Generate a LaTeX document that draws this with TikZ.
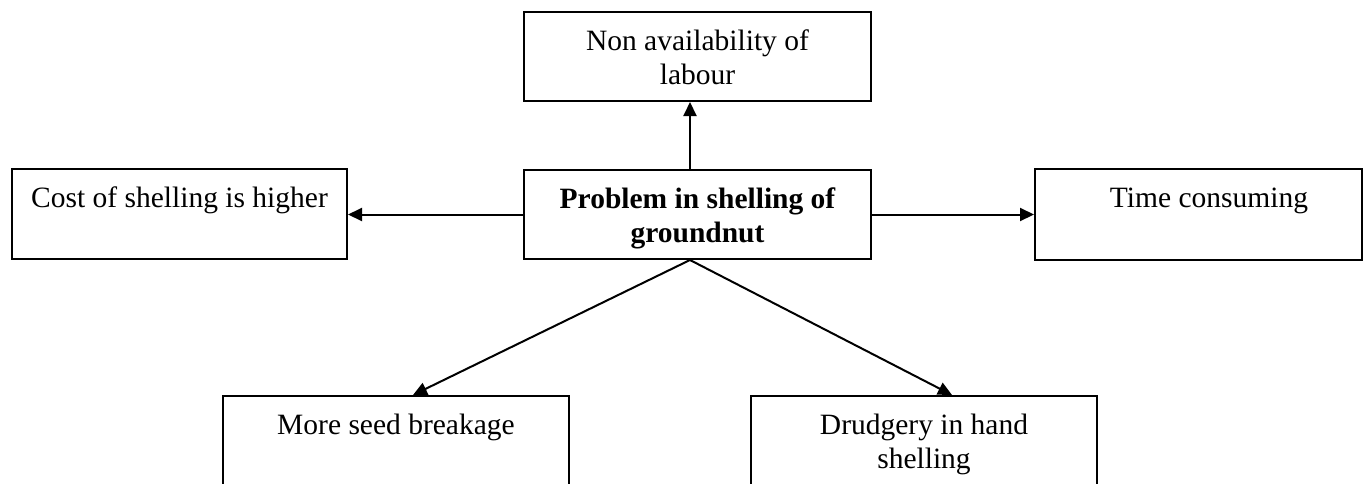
\documentclass[tikz,border=0pt]{standalone}
\usepackage{fontspec}
\setmainfont{Liberation Serif}
\usetikzlibrary{arrows.meta}
% text block of a box: width, height, lines (first baseline fixed below the top edge)
\newcommand\cellbox[3]{\parbox[c][#2][t]{#1}{\centering\vspace*{14pt}\strut#3\par}}
\begin{document}
\begin{tikzpicture}[x=1pt,y=-1pt,
  every node/.style={font=\fontsize{29.5}{34.5}\selectfont},
  box/.style={draw, line width=2pt, inner sep=0pt},
  link/.style={line width=2pt, -{Triangle[length=14pt,width=13pt]}}]
\useasboundingbox (0,0) rectangle (1365,483);
\clip (0,0) rectangle (1365,483);
\fill[white] (0,0) rectangle (1365,483);
% boxes
\node[box] (top) at (697.5,56.5) {\cellbox{347pt}{89pt}{Non availability of\\labour}};
\node[box] (core) at (697.5,214.5) {\cellbox{347pt}{89pt}{\bfseries Problem in shelling of\\groundnut}};
\node[box] (cost) at (179.5,214) {\cellbox{335pt}{90pt}{Cost of shelling is higher}};
\node[box] (time) at (1198.5,214.5) {\cellbox{327pt}{91pt}{\hspace*{21pt}Time consuming}};
\node[box] (seed) at (396,461) {\cellbox{346pt}{130pt}{More seed breakage}};
\node[box] (drud) at (924,461) {\cellbox{346pt}{130pt}{Drudgery in hand\\shelling}};
% connectors
\draw[link] ([xshift=-7.5pt]core.north) -- ([xshift=-7.5pt]core.north |- top.south);
\draw[link] (core.west) -- (core.west -| cost.east);
\draw[link] (core.east) -- (core.east -| time.west);
\draw[link] ([xshift=-7.5pt]core.south) -- ([xshift=17pt]seed.north);
\draw[link] ([xshift=-7.5pt]core.south) -- ([xshift=28pt]drud.north);
\end{tikzpicture}
\end{document}
